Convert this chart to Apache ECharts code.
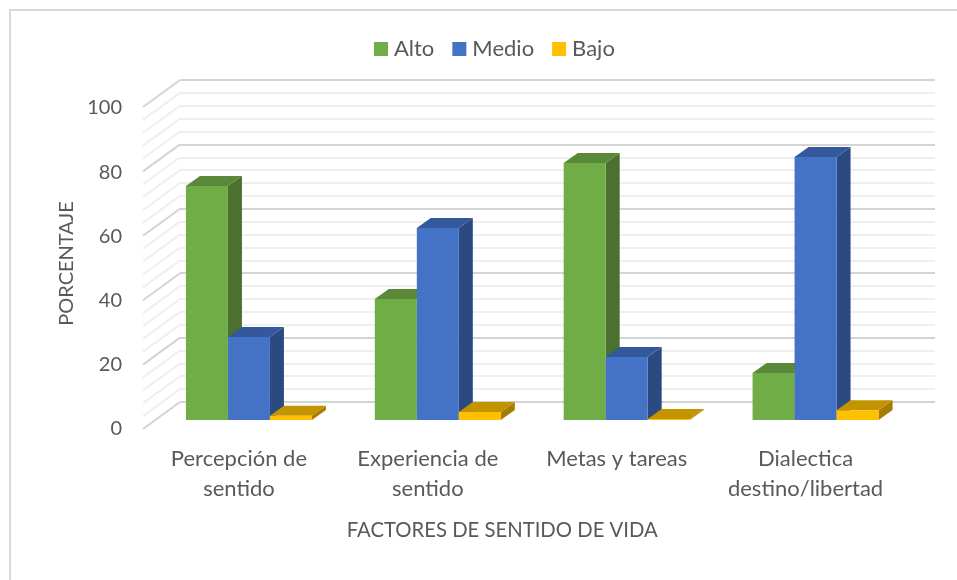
<!DOCTYPE html>
<html><head><meta charset="utf-8">
<script src="https://cdn.jsdelivr.net/npm/echarts@6/dist/echarts.min.js"></script>
<style>html,body{margin:0;padding:0;background:#fff}#c{width:957px;height:580px}</style>
</head><body><div id="c"></div>
<script>
const categories = ['Percepción de\nsentido', 'Experiencia de\nsentido', 'Metas y tareas', 'Dialectica\ndestino/libertad'];
const alto = [72.7, 37.6, 79.8, 14.6];
const medio = [25.8, 59.6, 19.6, 81.7];
const bajo = [1.3, 2.5, 0.3, 3];
const wallTicks = [0,4,8,12,16,20,24,28,32,36,40,44,48,52,56,60,64,68,72,76,80,84,88,92,96,100];
const yTicks = { min: 0, max: 100, interval: 20 };
const seriesInfo = [
  { name: 'Alto', data: alto, front: '#70AD47', top: '#5A8A39', side: '#4A7130' },
  { name: 'Medio', data: medio, front: '#4472C4', top: '#34589B', side: '#2B4A82' },
  { name: 'Bajo', data: bajo, front: '#FFC000', top: '#C49400', side: '#A67D00' }
];
const font = 'Lato, Carlito, "Open Sans", sans-serif';
const txt = '#595959';
const W = 957, H = 580;
const barW = 42, dx = 14, dy = 10;

function barSeries(info, idx) {
  return {
    type: 'custom', name: info.name, xAxisIndex: 0, yAxisIndex: 0, z: 5 + idx,
    itemStyle: { color: info.front },
    data: info.data.map((v, i) => [i, v]),
    encode: { x: 0, y: 1 },
    renderItem(params, api) {
      const base = api.coord([api.value(0), 0]);
      const top = api.coord([api.value(0), api.value(1)]);
      const x0 = base[0] - 1.5 * barW + idx * barW, x1 = x0 + barW;
      const yb = base[1], yt = top[1];
      return { type: 'group', children: [
        { type: 'polygon', shape: { points: [[x1, yb], [x1 + dx, yb - dy], [x1 + dx, yt - dy], [x1, yt]] }, style: { fill: info.side } },
        { type: 'polygon', shape: { points: [[x0, yt], [x0 + dx, yt - dy], [x1 + dx, yt - dy], [x1, yt]] }, style: { fill: info.top } },
        { type: 'rect', shape: { x: x0, y: yt, width: barW, height: yb - yt }, style: { fill: info.front } }
      ] };
    }
  };
}

const option = {
  animation: false,
  backgroundColor: '#fff',
  textStyle: { fontFamily: font },
  graphic: [{ type: 'polyline', silent: true, z: -1, shape: { points: [[10, H], [10, 10], [W, 10]] }, style: { fill: 'none', stroke: '#D9D9D9', lineWidth: 2 } }],
  legend: {
    top: 33, left: 369, itemWidth: 14, itemHeight: 14, itemGap: 18,
    icon: 'rect',
    textStyle: { color: txt, fontSize: 22, fontFamily: font, padding: [0, 0, 0, 1] },
    data: seriesInfo.map(s => s.name)
  },
  grid: [
    { left: 154.5, right: W - 910, top: 98, height: 322 },
    { left: 180, right: W - 935, top: 80, height: 322 },
    { left: 143, right: W - 935, top: 108, height: 321 }
  ],
  xAxis: [
    { type: 'category', gridIndex: 0, data: categories, axisLine: { show: false }, axisTick: { show: false },
      axisLabel: { color: txt, fontSize: 22, fontFamily: font, lineHeight: 30, margin: 24, interval: 0, padding: [0, 20, 0, 0] },
      name: 'FACTORES DE SENTIDO DE VIDA', nameLocation: 'middle', nameGap: 100,
      nameTextStyle: { color: txt, fontSize: 20.3, fontFamily: font, padding: [0, 60, 0, 0] } },
    { type: 'value', gridIndex: 1, min: 0, max: 1, show: false },
    { type: 'value', gridIndex: 2, min: 0, max: 1, show: false }
  ],
  yAxis: [
    { type: 'value', gridIndex: 0, ...yTicks, show: false },
    { type: 'value', gridIndex: 1, ...yTicks, axisLine: { show: false }, axisTick: { show: false }, axisLabel: { show: false },
      splitLine: { show: true, lineStyle: { color: '#D4D4D4', width: 2 } },
      minorTick: { show: false, splitNumber: 5 },
      minorSplitLine: { show: true, lineStyle: { color: '#EFEFEF', width: 2 } } },
    { type: 'value', gridIndex: 2, ...yTicks, axisLine: { show: false }, axisTick: { show: false }, splitLine: { show: false },
      axisLabel: { color: txt, fontSize: 20, fontFamily: font, margin: 21 },
      name: 'PORCENTAJE', nameLocation: 'middle', nameGap: 56, nameRotate: 90,
      nameTextStyle: { color: txt, fontSize: 20, fontFamily: font, padding: [0, 0, 0, 10] } }
  ],
  series: [
    {
      type: 'custom', xAxisIndex: 1, yAxisIndex: 1, z: 1, silent: true,
      data: wallTicks.map(v => [0, v]),
      encode: { x: 0, y: 1 },
      renderItem(params, api) {
        const p = api.coord([0, api.value(1)]);
        const major = api.value(1) % 20 === 0;
        return { type: 'line', shape: { x1: p[0], y1: p[1], x2: p[0] - 37, y2: p[1] + 27 },
          style: { stroke: major ? '#D4D4D4' : '#EFEFEF', lineWidth: 2 } };
      }
    },
    ...seriesInfo.map(barSeries)
  ]
};
const chart = echarts.init(document.getElementById('c'), null, { renderer: 'canvas' });
chart.setOption(option);
</script></body></html>
